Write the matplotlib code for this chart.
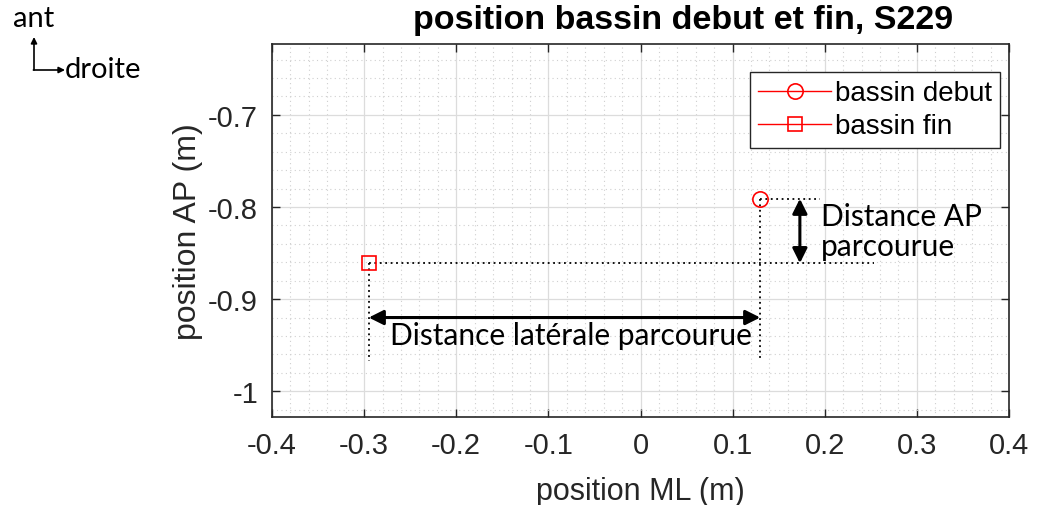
import matplotlib
matplotlib.use("Agg")
import matplotlib.pyplot as plt
from matplotlib.ticker import MultipleLocator

# ---- data ----
ml_debut = [0.13]
ap_debut = [-0.791]
ml_fin = [-0.295]
ap_fin = [-0.861]
legend_labels = ["bassin debut", "bassin fin"]
xticks = [-0.4, -0.3, -0.2, -0.1, 0, 0.1, 0.2, 0.3, 0.4]
xticklabels = ["-0.4", "-0.3", "-0.2", "-0.1", "0", "0.1", "0.2", "0.3", "0.4"]
yticks = [-1.0, -0.9, -0.8, -0.7]
yticklabels = ["-1", "-0.9", "-0.8", "-0.7"]
title = "position bassin debut et fin, S229"
xlabel = "position ML (m)"
ylabel = "position AP (m)"
txt_lat = "Distance latérale parcourue"
txt_ap = "Distance AP\nparcourue"

W, H = 1037, 506
fig = plt.figure(figsize=(W / 100, H / 100), dpi=100)
ax = fig.add_axes([272 / W, 1 - 418 / H, 737 / W, 373 / H])

axfont = "Liberation Sans"
annfont = "Lato"
dark = "#262626"

ax.plot(ml_debut, ap_debut, "-o", color="red", ms=11, mfc="none", mew=1.2,
        lw=1.0, label=legend_labels[0], zorder=5)
ax.plot(ml_fin, ap_fin, "-s", color="red", ms=10, mfc="none", mew=1.2,
        lw=1.0, label=legend_labels[1], zorder=5)

ax.set_xlim(-0.4, 0.4)
ax.set_ylim(-1.028, -0.623)

ax.set_xticks(xticks)
ax.set_xticklabels(xticklabels, fontfamily=axfont, fontsize=21, color=dark)
ax.set_yticks(yticks)
ax.set_yticklabels(yticklabels, fontfamily=axfont, fontsize=21, color=dark)
ax.xaxis.set_minor_locator(MultipleLocator(0.02))
ax.yaxis.set_minor_locator(MultipleLocator(0.02))
ax.tick_params(which="major", direction="in", length=6, width=1, color=dark,
               top=True, right=True, pad=10)
ax.tick_params(which="minor", length=0, top=True, right=True)
ax.grid(which="major", color="#dcdcdc", lw=0.9, ls="-")
ax.grid(which="minor", color="#cfcfcf", lw=0.8, ls=(0, (1, 3)))
ax.set_axisbelow(True)
for s in ax.spines.values():
    s.set_color(dark)
    s.set_linewidth(1.2)

ax.set_xlabel(xlabel, fontfamily=axfont, fontsize=22, color=dark, labelpad=12)
ax.set_ylabel(ylabel, fontfamily=axfont, fontsize=23, color=dark, labelpad=4)

leg = ax.legend(loc="upper right", bbox_to_anchor=(0.988, 0.925),
                prop={"family": axfont, "size": 20}, fancybox=False,
                framealpha=1, edgecolor=dark, handlelength=2.6,
                handletextpad=0.15, borderpad=0.3, labelspacing=0.25,
                borderaxespad=0)
leg.get_frame().set_linewidth(1.0)

# dotted guide lines
x0, y0 = ml_debut[0], ap_debut[0]
x1, y1 = ml_fin[0], ap_fin[0]
dot = dict(color="black", lw=1.3, ls=(0, (1, 2)), zorder=4)
ax.plot([x0, 0.195], [y0, y0], **dot)
ax.plot([x1, 0.253], [y1, y1], **dot)
ax.plot([x0, x0], [y0, -0.967], **dot)
ax.plot([x1, x1], [y1, -0.967], **dot)

arr = dict(arrowstyle="<|-|>", color="black", lw=2.2, mutation_scale=22,
           shrinkA=0, shrinkB=0)
ax.annotate("", xy=(x1, -0.92), xytext=(x0, -0.92), arrowprops=arr, zorder=6)
ax.annotate("", xy=(0.173, y0), xytext=(0.173, y1), arrowprops=arr, zorder=6)

ax.text(-0.075, -0.9395, txt_lat, fontfamily=annfont, fontsize=21.5,
        ha="center", va="center", color="black", zorder=7)
ax.text(0.196, -0.826, txt_ap, fontfamily=annfont, fontsize=21.5,
        ha="left", va="center", color="black", linespacing=1.05, zorder=7)

fig.text(683 / W, 1 - 20 / H, title, fontfamily=axfont, fontweight="bold",
         fontsize=24.5, ha="center", va="center", color="black")

# orientation mark
fig.text(13 / W, 1 - 19 / H, "ant", fontfamily=annfont, fontsize=21,
         ha="left", va="center")
fig.text(65 / W, 1 - 70 / H, "droite", fontfamily=annfont, fontsize=21,
         ha="left", va="center")
sarr = dict(arrowstyle="-|>", color="black", lw=1.2, mutation_scale=9,
            shrinkA=0, shrinkB=0)
ax.annotate("", xy=(34 / W, 1 - 38 / H), xytext=(34 / W, 1 - 71 / H),
            xycoords="figure fraction", textcoords="figure fraction",
            arrowprops=sarr, annotation_clip=False)
ax.annotate("", xy=(65 / W, 1 - 71 / H), xytext=(33.4 / W, 1 - 71 / H),
            xycoords="figure fraction", textcoords="figure fraction",
            arrowprops=sarr, annotation_clip=False)

fig.savefig("out.png", dpi=100, facecolor="white")
